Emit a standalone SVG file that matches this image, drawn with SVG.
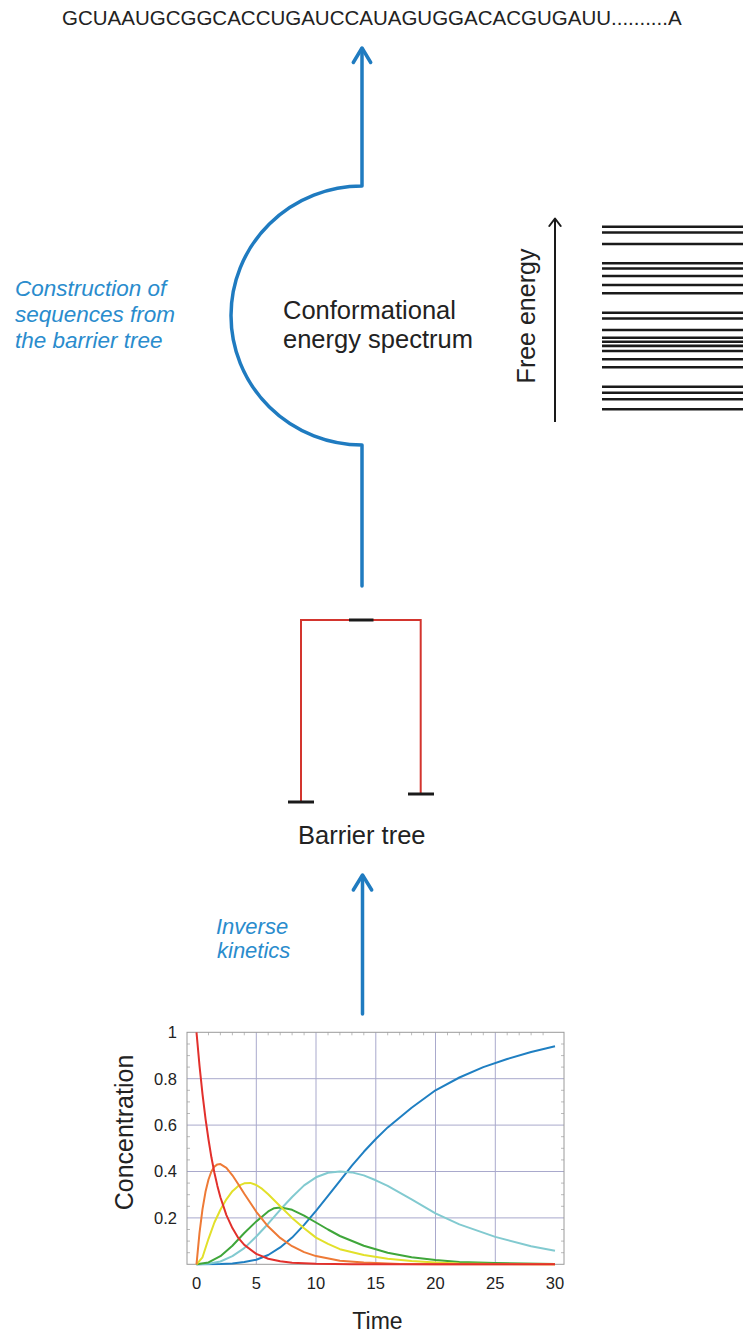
<svg xmlns="http://www.w3.org/2000/svg" width="747" height="1335" viewBox="0 0 747 1335">
<style>
text{font-family:"Liberation Sans",Arial,sans-serif;fill:#222}
.lbl{font-size:25.5px}
.blue{font-size:22.5px;font-style:italic;fill:#2a8ccd}
.flow{fill:none;stroke:#1f7bc0;stroke-width:3.5;stroke-linecap:round;stroke-linejoin:round}
.tree{fill:none;stroke:#d3352e;stroke-width:2}
.bar{stroke:#1a1a1a;stroke-width:3}
.lev{stroke:#1a1a1a;stroke-width:2.6}
.grid{stroke:#a9a9cc;stroke-width:1}
.tick{stroke:#aaa;stroke-width:0.8}
.crv{fill:none;stroke-width:2;stroke-linejoin:round}
.ax{font-size:16.5px}
</style>
<rect width="747" height="1335" fill="#fff"/>

<g id="sequence">
<text x="62" y="25" style="font-size:20.5px">GCUAAUGCGGCACCUGAUCCAUAGUGGACACGUGAUU..........A</text>
</g>

<g id="connectors">
<path class="flow" d="M362,586 V445 A131,129.5 0 0 1 362,186 V49"/>
<path class="flow" d="M353.3,62.5 L362,48 L370.7,62.5"/>
<path class="flow" d="M362.5,1014 V876"/>
<path class="flow" d="M353.3,890 L362.5,875 L371.7,890"/>
</g>

<g id="label-construction">
<text class="blue" x="15" y="296">Construction of</text>
<text class="blue" x="15" y="322">sequences from</text>
<text class="blue" x="15" y="348">the barrier tree</text>
</g>

<g id="node-spectrum">
<text class="lbl" x="283" y="319">Conformational</text>
<text class="lbl" x="283" y="348">energy spectrum</text>
</g>

<g id="free-energy-axis">
<line x1="555" y1="422" x2="555" y2="219" stroke="#1a1a1a" stroke-width="2"/>
<path d="M549.3,226 L555,218.5 L560.7,226" fill="none" stroke="#1a1a1a" stroke-width="2" stroke-linecap="round" stroke-linejoin="round"/>
<text transform="translate(535,316) rotate(-90)" text-anchor="middle" style="font-size:25px">Free energy</text>
</g>

<g id="energy-levels">
<line class="lev" x1="602" x2="743" y1="226.7" y2="226.7"/>
<line class="lev" x1="602" x2="743" y1="232.5" y2="232.5"/>
<line class="lev" x1="602" x2="743" y1="244" y2="244"/>
<line class="lev" x1="602" x2="743" y1="263.3" y2="263.3"/>
<line class="lev" x1="602" x2="743" y1="268.5" y2="268.5"/>
<line class="lev" x1="602" x2="743" y1="276" y2="276"/>
<line class="lev" x1="602" x2="743" y1="285" y2="285"/>
<line class="lev" x1="602" x2="743" y1="293.3" y2="293.3"/>
<line class="lev" x1="602" x2="743" y1="312.7" y2="312.7"/>
<line class="lev" x1="602" x2="743" y1="318.5" y2="318.5"/>
<line class="lev" x1="602" x2="743" y1="330" y2="330"/>
<line class="lev" x1="602" x2="743" y1="337.7" y2="337.7"/>
<line class="lev" x1="602" x2="743" y1="341.8" y2="341.8"/>
<line class="lev" x1="602" x2="743" y1="345.9" y2="345.9"/>
<line class="lev" x1="602" x2="743" y1="351" y2="351"/>
<line class="lev" x1="602" x2="743" y1="359.3" y2="359.3"/>
<line class="lev" x1="602" x2="743" y1="367.3" y2="367.3"/>
<line class="lev" x1="602" x2="743" y1="386.7" y2="386.7"/>
<line class="lev" x1="602" x2="743" y1="392.7" y2="392.7"/>
<line class="lev" x1="602" x2="743" y1="399.3" y2="399.3"/>
<line class="lev" x1="602" x2="743" y1="409.3" y2="409.3"/>
</g>

<g id="node-barrier-tree">
<path class="tree" d="M301,802 V620 H420.7 V794"/>
<line class="bar" x1="349" y1="620" x2="373.5" y2="620"/>
<line class="bar" x1="288" y1="802" x2="314" y2="802"/>
<line class="bar" x1="408" y1="794" x2="434" y2="794"/>
<text x="298" y="844" style="font-size:25.5px">Barrier tree</text>
</g>

<g id="label-inverse">
<text class="blue" x="216" y="934" style="font-size:22px">Inverse</text>
<text class="blue" x="217" y="958" style="font-size:22px">kinetics</text>
</g>

<g id="chart">
<g id="grid">
<line class="grid" x1="256.3" x2="256.3" y1="1032.3" y2="1264.3"/>
<line class="grid" x1="316" x2="316" y1="1032.3" y2="1264.3"/>
<line class="grid" x1="375.8" x2="375.8" y1="1032.3" y2="1264.3"/>
<line class="grid" x1="435.5" x2="435.5" y1="1032.3" y2="1264.3"/>
<line class="grid" x1="495.3" x2="495.3" y1="1032.3" y2="1264.3"/>
<line class="grid" x1="187" x2="564" y1="1217.9" y2="1217.9"/>
<line class="grid" x1="187" x2="564" y1="1171.5" y2="1171.5"/>
<line class="grid" x1="187" x2="564" y1="1125.1" y2="1125.1"/>
<line class="grid" x1="187" x2="564" y1="1078.7" y2="1078.7"/>
</g>
<g id="ticks">
<path class="tick" d="M187,1044 h3 M187,1055.6 h3 M187,1067.1 h3 M187,1090.3 h3 M187,1101.9 h3 M187,1113.5 h3 M187,1136.7 h3 M187,1148.3 h3 M187,1159.9 h3 M187,1183.1 h3 M187,1194.7 h3 M187,1206.3 h3 M187,1229.5 h3 M187,1241.1 h3 M187,1252.7 h3"/>
<path class="tick" d="M564,1044 h-3 M564,1055.6 h-3 M564,1067.1 h-3 M564,1090.3 h-3 M564,1101.9 h-3 M564,1113.5 h-3 M564,1136.7 h-3 M564,1148.3 h-3 M564,1159.9 h-3 M564,1183.1 h-3 M564,1194.7 h-3 M564,1206.3 h-3 M564,1229.5 h-3 M564,1241.1 h-3 M564,1252.7 h-3"/>
<path class="tick" d="M208.5,1032.3 v3 M220.4,1032.3 v3 M232.4,1032.3 v3 M244.3,1032.3 v3 M268.2,1032.3 v3 M280.2,1032.3 v3 M292.1,1032.3 v3 M304.1,1032.3 v3 M328,1032.3 v3 M339.9,1032.3 v3 M351.9,1032.3 v3 M363.8,1032.3 v3 M387.7,1032.3 v3 M399.7,1032.3 v3 M411.6,1032.3 v3 M423.6,1032.3 v3 M447.5,1032.3 v3 M459.4,1032.3 v3 M471.4,1032.3 v3 M483.3,1032.3 v3 M507.2,1032.3 v3 M519.2,1032.3 v3 M531.1,1032.3 v3 M543.1,1032.3 v3"/>
</g>
<rect x="187" y="1032.3" width="377" height="232" fill="none" stroke="#9a9a9a" stroke-width="1"/>

<g id="curves">
<polyline class="crv" stroke="#1f7fc2" points="196.5,1264.3 220.4,1264.1 232.4,1263.4 244.3,1262.0 256.3,1259.7 268.2,1255.0 280.2,1247.4 292.1,1237.6 304.1,1224.9 316,1210.9 328,1195.9 339.9,1180.8 351.9,1165.7 363.8,1151.8 375.8,1139.0 387.7,1127.4 411.6,1107.7 435.5,1090.3 459.4,1077.5 483.3,1067.1 507.2,1059.0 531.1,1052.0 555,1046.2"/>
<polyline class="crv" stroke="#82cad0" points="196.5,1264.3 208.5,1263.8 220.4,1261.5 232.4,1256.2 244.3,1248.1 256.3,1236.5 268.2,1223.7 280.2,1209.8 292.1,1197.0 304.1,1185.4 316,1177.3 328,1172.7 339.9,1171.5 351.9,1172.4 363.8,1175.4 375.8,1180.3 387.7,1185.9 411.6,1199.3 435.5,1213.3 459.4,1224.4 495.3,1236.9 531.1,1246.2 555,1250.8"/>
<polyline class="crv" stroke="#3fa63a" points="196.5,1264.3 208.5,1262.4 220.4,1256.2 232.4,1245.7 244.3,1233.0 256.3,1221.4 268.2,1211.4 274.2,1208.2 280.2,1207.5 286.1,1208.6 292.1,1209.8 304.1,1215.6 316,1222.5 328,1229.5 339.9,1236.0 363.8,1245.7 387.7,1252.7 411.6,1257.3 435.5,1260.1 459.4,1262.0 495.3,1263.1 555,1264.1"/>
<polyline class="crv" stroke="#e2e02a" points="196.5,1264.3 202.5,1257.3 208.5,1238.8 214.4,1222.5 220.4,1209.8 226.4,1199.3 232.4,1191.2 238.3,1185.9 244.3,1183.3 250.3,1182.9 256.3,1185.0 262.2,1188.9 268.2,1194.2 280.2,1206.3 292.1,1217.9 304.1,1228.3 316,1237.6 328,1243.9 339.9,1249.2 363.8,1255.0 387.7,1258.7 411.6,1261.1 435.5,1262.4 459.4,1263.4 495.3,1263.9 555,1264.3"/>
<polyline class="crv" stroke="#ee7a36" points="196.5,1264.3 199.5,1232.8 202.5,1209.1 205.5,1191.8 208.5,1179.5 211.4,1171.5 214.4,1166.6 217.4,1164.4 220.4,1164.1 226.4,1167.9 232.4,1175.3 238.3,1184.2 244.3,1193.7 256.3,1211.8 268.2,1226.6 280.2,1237.9 292.1,1246.2 304.1,1252.1 316,1256.1 339.9,1260.7 363.8,1262.6 399.7,1263.9 435.5,1264.2 555,1264.3"/>
<polyline class="crv" stroke="#e2302c" points="196.5,1032.3 199.5,1065.7 202.5,1094.2 205.5,1118.6 208.5,1139.5 211.4,1157.3 214.4,1172.7 217.4,1185.9 220.4,1197.2 226.4,1215.1 232.4,1228.1 238.3,1237.9 244.3,1244.9 256.3,1253.9 268.2,1258.7 280.2,1261.3 292.1,1262.7 316,1263.8 351.9,1264.2 555,1264.3"/>
</g>

<g id="y-labels" text-anchor="end">
<text class="ax" x="177" y="1038">1</text>
<text class="ax" x="177" y="1084.5">0.8</text>
<text class="ax" x="177" y="1131">0.6</text>
<text class="ax" x="177" y="1177">0.4</text>
<text class="ax" x="177" y="1223.5">0.2</text>
</g>
<g id="x-labels" text-anchor="middle">
<text class="ax" x="196.5" y="1289">0</text>
<text class="ax" x="256.3" y="1289">5</text>
<text class="ax" x="316" y="1289">10</text>
<text class="ax" x="375.8" y="1289">15</text>
<text class="ax" x="435.5" y="1289">20</text>
<text class="ax" x="495.3" y="1289">25</text>
<text class="ax" x="555" y="1289">30</text>
</g>
<text transform="translate(133,1132.5) rotate(-90)" text-anchor="middle" style="font-size:25px">Concentration</text>
<text x="377.5" y="1329" text-anchor="middle" style="font-size:23px">Time</text>
</g>
</svg>
